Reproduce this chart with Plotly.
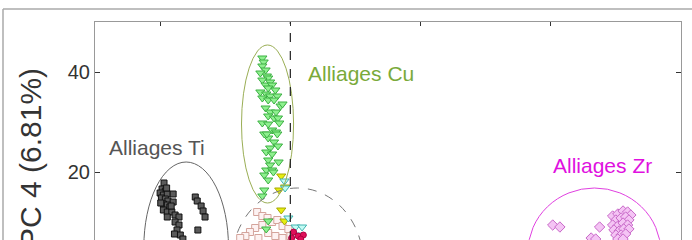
import plotly.graph_objects as go

# ---- data (PC3-like x, PC4 y) ----
ti_x = [-19.4,-19.7,-19.2,-20.0,-19.5,-18.9,-18.0,-19.8,-19.2,-18.8,-18.0,-19.5,-18.9,-18.5,-19.5,-18.9,-18.2,-17.7,-17.1,-18.9,-17.7,-17.1,-17.4,-16.9,-16.5,-17.8,-14.6,-14.3,-13.7,-13.4,-13.1,-14.2,-19.0,-18.3,-19.9]
ti_y = [17.8,16.6,16.2,15.8,15.4,15.6,15.6,14.8,14.6,14.2,14.0,13.6,13.4,13.0,12.4,12.0,12.0,11.4,11.0,11.0,10.0,9.4,8.4,7.4,6.6,7.6,15.0,14.2,13.2,12.2,11.0,8.4,16.8,13.2,13.8]

cu_x = [-4.3,-4.1,-4.3,-3.8,-4.6,-3.6,-3.4,-4.3,-3.1,-3.8,-2.8,-3.4,-2.3,-4.6,-3.7,-3.1,-2.0,-4.3,-3.4,-2.5,-1.5,-3.8,-3.1,-2.2,-1.2,-3.4,-2.5,-1.9,-4.3,-3.4,-1.7,-2.8,-2.2,-3.4,-2.5,-3.1,-1.9,-3.7,-2.8,-3.4,-3.1,-3.7,-4.0,-2.8,-3.4,-4.0,-4.3,-3.4,-3.7,-2.0,-4.0,-3.6,-1.8,-2.6]
cu_y = [42.8,42.0,41.2,40.4,39.8,39.2,38.8,38.4,38.0,37.4,37.4,36.8,36.4,36.0,35.6,35.2,35.2,34.8,34.4,34.4,33.2,32.8,32.0,32.0,33.6,31.2,30.8,30.8,29.8,29.6,29.8,28.4,28.0,26.8,26.0,24.8,25.2,24.0,23.6,22.4,21.4,20.4,19.4,20.4,18.4,16.4,15.2,10.2,8.6,27.6,27.6,27.6,22.0,20.0]

ye_x = [-1.4,-0.8,-1.7,-1.4,-0.9]
ye_y = [19.2,17.0,16.4,12.4,10.2]

cy_x = [-0.9,-0.8,-0.3,0.8,1.8,1.5]
cy_y = [18.2,16.8,10.8,9.0,9.0,7.4]

cr_x = [0.5,1.2,2.0,1.6,0.2]
cr_y = [8.0,7.2,7.4,6.6,6.8]

pk_x = [-5.1,-4.3,-3.5,-2.8,-2.0,-1.2,-0.3,-4.3,-5.4,-6.2,-6.9,-3.4,-2.3,-1.2,0.0,-7.7,-4.9]
pk_y = [12.0,11.2,10.8,10.0,10.4,9.2,8.6,9.4,8.8,8.0,7.2,7.8,7.2,6.8,7.2,6.8,6.8]

zr_x = [40.3,41.4,47.5,46.2,46.9,49.5,50.3,51.1,51.8,52.3,50.0,50.8,51.5,52.0,49.5,50.3,51.1,51.8,49.7,50.5,51.2,52.0,50.0,50.8,51.5,50.3,51.1]
zr_y = [9.4,9.0,9.0,6.8,6.6,11.2,11.6,12.2,12.0,11.4,10.4,10.8,11.0,10.4,9.4,9.2,9.8,9.4,8.4,8.2,8.6,8.6,7.4,7.4,7.6,6.6,6.6]

x_ticks = [-20, 0, 20, 40]
y_ticks = [0, 20, 40]
y_title = "PC 4 (6.81%)"
labels = ["Alliages Ti", "Alliages Cu", "Alliages Zr"]

FONT = "Liberation Sans, Arial, sans-serif"

fig = go.Figure()

def add(x, y, symbol, fill, edge, size):
    fig.add_trace(go.Scatter(x=x, y=y, mode="markers", showlegend=False,
                             marker=dict(symbol=symbol, color=fill, size=size,
                                         line=dict(color=edge, width=1))))

add(pk_x, pk_y, "square", "#fdf2f2", "#d4a49c", 7)
add(ti_x, ti_y, "square", "#5a5a5a", "#111111", 6)
add(cu_x, cu_y, "triangle-down", "#8ef08e", "#3cb043", 8)
add(ye_x, ye_y, "triangle-down", "#e6ee10", "#a8a800", 8)
add(cy_x, cy_y, "triangle-down", "#c4fbf4", "#40b4b0", 8)
add(cr_x, cr_y, "circle", "#e0105a", "#b00040", 6)
add(zr_x, zr_y, "diamond", "#f4c4f4", "#c868c8", 8)

# ellipses
fig.add_shape(type="circle", xref="x", yref="y", x0=-22.5, x1=-9.5, y0=-12, y1=22,
              line=dict(color="#666666", width=1))
fig.add_shape(type="circle", xref="x", yref="y", x0=-7.5, x1=0.5, y0=13.8, y1=45.4,
              line=dict(color="#9aae55", width=1))
fig.add_shape(type="circle", xref="x", yref="y", x0=36.5, x1=56.9, y0=-8.8, y1=16.8,
              line=dict(color="#e040e0", width=1))
fig.add_shape(type="circle", xref="x", yref="y", x0=-9.0, x1=11.2, y0=-13.2, y1=16.8,
              line=dict(color="#777777", width=1, dash="dash"))
# vertical dashed line at x=0
fig.add_shape(type="line", xref="x", yref="paper", x0=0, x1=0, y0=0, y1=1,
              line=dict(color="#222222", width=1.2, dash="dash"))
# outer figure frame
fig.add_shape(type="line", xref="paper", yref="paper", x0=-0.157, x1=-0.157, y0=-0.2, y1=1.0596,
              line=dict(color="#aaaaaa", width=1.5))
fig.add_shape(type="line", xref="paper", yref="paper", x0=-0.157, x1=1.2, y0=1.0596, y1=1.0596,
              line=dict(color="#aaaaaa", width=1.5))

fig.add_annotation(x=-20.5, y=25.0, text=labels[0], showarrow=False,
                   font=dict(family=FONT, size=21, color="#555555"))
fig.add_annotation(x=10.8, y=39.8, text=labels[1], showarrow=False,
                   font=dict(family=FONT, size=21, color="#7aaa3a"))
fig.add_annotation(x=48.0, y=21.4, text=labels[2], showarrow=False,
                   font=dict(family=FONT, size=21, color="#e010e0"))
fig.add_annotation(xref="paper", yref="paper", x=-0.111, y=0.376, text=y_title,
                   xanchor="center", yanchor="middle",
                   textangle=-90, showarrow=False,
                   font=dict(family=FONT, size=30, color="#333333"))

fig.update_layout(
    width=692, height=240,
    margin=dict(l=95, r=11, t=22, b=0),
    paper_bgcolor="white", plot_bgcolor="white",
    font=dict(family=FONT),
    xaxis=dict(range=[-30, 60], tickvals=x_ticks, showticklabels=False, side="top",
               ticks="inside", ticklen=4, tickcolor="#333333",
               showline=True, linecolor="#999999", linewidth=1, mirror=False,
               showgrid=False, zeroline=False),
    yaxis=dict(range=[6.4, 50], tickvals=y_ticks, ticks="inside", ticklen=5,
               tickcolor="#333333", showline=True, linecolor="#999999", linewidth=1,
               mirror="ticks", showgrid=False, zeroline=False,
               tickfont=dict(family=FONT, size=20, color="#333333")),
)

fig.write_html("out.html", config={"displayModeBar": False},
               post_script="document.body.style.margin='0';document.body.style.overflow='hidden';")
